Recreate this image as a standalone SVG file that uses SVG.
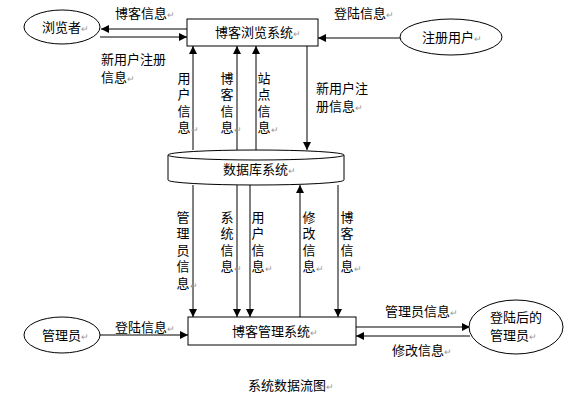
<svg xmlns="http://www.w3.org/2000/svg" width="571" height="401" viewBox="0 0 571 401">
<style>
text{font-family:"Noto Sans CJK SC","Noto Sans CJK JP",sans-serif;font-size:13px;fill:#000}
.pm{fill:#999;font-size:9px}
.v{writing-mode:vertical-rl;letter-spacing:3.5px}
.shape{fill:#fff;stroke:#000;stroke-width:1}
.ln{stroke:#000;stroke-width:1;fill:none;marker-end:url(#ah)}
</style>
<defs>
<marker id="ah" viewBox="0 0 10 10" refX="10" refY="5" markerWidth="8" markerHeight="8" markerUnits="userSpaceOnUse" orient="auto">
<path d="M0,0 L10,5 L0,10 z" fill="#000"/>
</marker>
</defs>
<rect width="571" height="401" fill="#fff"/>
<g id="connectors">
<line class="ln" x1="187" y1="29" x2="101" y2="29"/>
<line class="ln" x1="100" y1="37" x2="187" y2="37"/>
<line class="ln" x1="400" y1="38" x2="318" y2="38"/>
<line class="ln" x1="193" y1="150" x2="193" y2="46"/>
<line class="ln" x1="237" y1="150" x2="237" y2="46"/>
<line class="ln" x1="256" y1="150" x2="256" y2="46"/>
<line class="ln" x1="307" y1="46" x2="307" y2="150"/>
<line class="ln" x1="193" y1="185" x2="193" y2="317"/>
<line class="ln" x1="237" y1="185" x2="237" y2="317"/>
<line class="ln" x1="250" y1="185" x2="250" y2="317"/>
<line class="ln" x1="300" y1="317" x2="300" y2="185"/>
<line class="ln" x1="338" y1="185" x2="338" y2="317"/>
<line class="ln" x1="100" y1="335" x2="188" y2="335"/>
<line class="ln" x1="356" y1="327" x2="470" y2="327"/>
<line class="ln" x1="470" y1="336" x2="356" y2="336"/>
</g>
<g id="labels">
<text x="115" y="18">博客信息<tspan class="pm">↵</tspan></text>
<text x="101" y="64">新用户注册</text>
<text x="101" y="82">信息<tspan class="pm">↵</tspan></text>
<text x="334" y="18">登陆信息<tspan class="pm">↵</tspan></text>
<text x="316" y="93">新用户注</text>
<text x="316" y="111">册信息<tspan class="pm">↵</tspan></text>
<text class="v" x="184" y="71.5">用户信息</text>
<text class="v" x="227" y="71.5">博客信息</text>
<text class="v" x="264" y="71.5">站点信息</text>
<text class="v" x="183" y="210.5">管理员信息</text>
<text class="v" x="227" y="210.5">系统信息</text>
<text class="v" x="258" y="210.5">用户信息</text>
<text class="v" x="309" y="210.5">修改信息</text>
<text class="v" x="347" y="210.5">博客信息</text>
<text class="pm" x="191" y="133">↵</text><text class="pm" x="234" y="133">↵</text><text class="pm" x="271" y="133">↵</text>
<text class="pm" x="190" y="289">↵</text><text class="pm" x="234" y="272">↵</text><text class="pm" x="265" y="272">↵</text><text class="pm" x="316" y="272">↵</text><text class="pm" x="354" y="272">↵</text>
<text x="115" y="332">登陆信息<tspan class="pm">↵</tspan></text>
<text x="385" y="316">管理员信息<tspan class="pm">↵</tspan></text>
<text x="392" y="355">修改信息<tspan class="pm">↵</tspan></text>
<text x="248" y="390">系统数据流图<tspan class="pm">↵</tspan></text>
</g>
<g id="browser">
<ellipse class="shape" cx="62" cy="27" rx="38" ry="17"/>
<text x="42" y="32">浏览者<tspan class="pm">↵</tspan></text>
</g>
<g id="blog-browse">
<rect class="shape" x="187" y="19" width="131" height="27"/>
<text x="215" y="37">博客浏览系统<tspan class="pm">↵</tspan></text>
</g>
<g id="reg-user">
<ellipse class="shape" cx="451" cy="37" rx="51" ry="18"/>
<text x="422" y="42">注册用户<tspan class="pm">↵</tspan></text>
</g>
<g id="database">
<path class="shape" d="M168,155 L168,180 A88,5 0 0 0 344,180 L344,155"/>
<ellipse class="shape" cx="256" cy="155" rx="88" ry="5"/>
<text x="223" y="174">数据库系统<tspan class="pm">↵</tspan></text>
</g>
<g id="blog-admin">
<rect class="shape" x="188" y="317" width="168" height="28"/>
<text x="232" y="336">博客管理系统<tspan class="pm">↵</tspan></text>
</g>
<g id="admin">
<ellipse class="shape" cx="62" cy="335" rx="38" ry="18"/>
<text x="42" y="340">管理员<tspan class="pm">↵</tspan></text>
</g>
<g id="logged-admin">
<ellipse class="shape" cx="516" cy="327" rx="47" ry="27"/>
<text x="490" y="322">登陆后的</text>
<text x="490" y="340">管理员<tspan class="pm">↵</tspan></text>
</g>
</svg>
